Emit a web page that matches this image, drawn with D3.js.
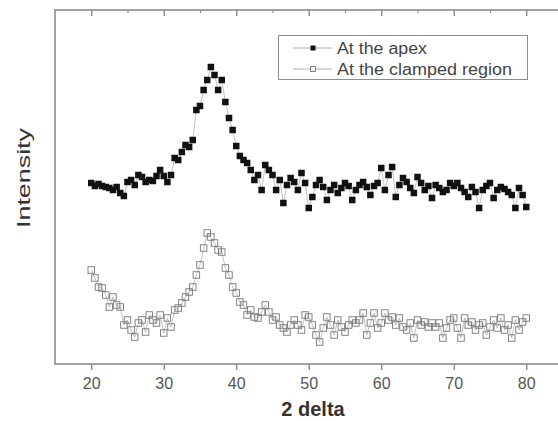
<!DOCTYPE html>
<html>
<head>
<meta charset="utf-8">
<script src="https://cdn.jsdelivr.net/npm/d3@7"></script>
<style>
  body { margin: 0; background: #fff; }
  text { font-family: "Liberation Sans", Arial, sans-serif; }
</style>
</head>
<body>
<div id="chart"></div>
<script>
// 2 theta positions (degrees)
const twoTheta = [
  20, 20.5, 21, 21.5, 22, 22.5, 23, 23.5, 24, 24.5, 25, 25.5, 26, 26.5, 27, 27.5, 28, 28.5, 29, 29.5,
  30, 30.5, 31, 31.5, 32, 32.5, 33, 33.5, 34, 34.5, 35, 35.5, 36, 36.5, 37, 37.5, 38, 38.5, 39, 39.5,
  40, 40.5, 41, 41.5, 42, 42.5, 43, 43.5, 44, 44.5, 45, 45.5, 46, 46.5, 47, 47.5, 48, 48.5, 49, 49.5,
  50, 50.5, 51, 51.5, 52, 52.5, 53, 53.5, 54, 54.5, 55, 55.5, 56, 56.5, 57, 57.5, 58, 58.5, 59, 59.5,
  60, 60.5, 61, 61.5, 62, 62.5, 63, 63.5, 64, 64.5, 65, 65.5, 66, 66.5, 67, 67.5, 68, 68.5, 69, 69.5,
  70, 70.5, 71, 71.5, 72, 72.5, 73, 73.5, 74, 74.5, 75, 75.5, 76, 76.5, 77, 77.5, 78, 78.5, 79, 79.5,
  80
];

// intensity (a.u.) at the apex
const apex = [
  181, 178, 180, 178, 177, 176, 174, 177, 171, 168, 182, 184, 179, 189, 187, 182, 184, 183, 188, 194,
  188, 182, 189, 206, 204, 212, 219, 217, 224, 254, 258, 274, 284, 297, 289, 274, 284, 262, 246, 234,
  218, 208, 204, 201, 194, 184, 189, 174, 199, 194, 189, 174, 184, 161, 179, 186, 182, 174, 191, 181,
  156, 167, 179, 184, 177, 164, 174, 179, 171, 176, 181, 178, 164, 174, 179, 182, 177, 169, 178, 181,
  196, 174, 189, 197, 167, 179, 186, 182, 176, 171, 187, 181, 174, 178, 166, 179, 176, 172, 174, 181,
  178, 181, 176, 172, 167, 177, 172, 156, 174, 178, 181, 166, 174, 177, 175, 172, 169, 156, 176, 169,
  157
];

// intensity (a.u.) at the clamped region
const clamped = [
  94, 86, 77, 76, 69, 57, 67, 59, 57, 39, 44, 34, 27, 41, 44, 32, 49, 44, 41, 49,
  31, 46, 37, 54, 56, 61, 67, 72, 77, 89, 99, 116, 131, 127, 121, 114, 112, 96, 89, 77,
  71, 62, 59, 49, 54, 47, 46, 52, 59, 52, 44, 47, 39, 36, 32, 39, 44, 39, 34, 49,
  47, 39, 29, 22, 36, 47, 39, 29, 44, 37, 32, 39, 44, 41, 44, 51, 29, 41, 51, 36,
  41, 51, 44, 47, 39, 46, 37, 34, 41, 26, 44, 39, 42, 37, 41, 37, 41, 26, 36, 44,
  46, 36, 26, 46, 39, 42, 34, 39, 41, 29, 37, 44, 36, 46, 34, 39, 26, 44, 34, 42,
  46
];

const xTicks = [20, 30, 40, 50, 60, 70, 80];
const xMinorTicks = [25, 35, 45, 55, 65, 75];
const seriesNames = ["At the apex", "At the clamped region"];

const W = 558, H = 421;
const margin = {top: 10, left: 55, bottom: 364};

const svg = d3.select("#chart").append("svg")
    .attr("width", W)
    .attr("height", H);

const x = d3.scaleLinear().domain([15, 85]).range([55, 562.5]);
const y = d3.scaleLinear().domain([0, 354]).range([364, 10]);

const frameColor = "#8c8c8c";

// frame
svg.append("rect")
    .attr("x", x(15))
    .attr("y", y(354))
    .attr("width", x(85) - x(15))
    .attr("height", y(0) - y(354))
    .attr("fill", "none")
    .attr("stroke", frameColor)
    .attr("stroke-width", 1.6);

// bottom axis, ticks outward
const xAxis = svg.append("g")
    .attr("transform", `translate(0, ${y(0)})`)
    .call(d3.axisBottom(x).tickValues(xTicks).tickSize(6).tickPadding(8));
xAxis.select(".domain").remove();
xAxis.selectAll("line").attr("stroke", frameColor).attr("stroke-width", 1.4);
xAxis.selectAll("text")
    .attr("fill", "#555")
    .style("font-size", "16px");

// top axis, ticks inward
const topAxis = svg.append("g")
    .attr("transform", `translate(0, ${y(354)})`)
    .call(d3.axisBottom(x).tickValues(xTicks).tickSize(6).tickFormat(""));
topAxis.select(".domain").remove();
topAxis.selectAll("line").attr("stroke", frameColor).attr("stroke-width", 1.4);

const topMinor = svg.append("g")
    .attr("transform", `translate(0, ${y(354)})`)
    .call(d3.axisBottom(x).tickValues(xMinorTicks).tickSize(3).tickFormat(""));
topMinor.select(".domain").remove();
topMinor.selectAll("line").attr("stroke", frameColor).attr("stroke-width", 1.2);

// axis titles
svg.append("text")
    .attr("x", 313)
    .attr("y", 416)
    .attr("text-anchor", "middle")
    .attr("fill", "#333")
    .style("font-size", "20px")
    .style("font-weight", "bold")
    .text("2 delta");

svg.append("text")
    .attr("transform", "translate(30, 178) rotate(-90)")
    .attr("text-anchor", "middle")
    .attr("fill", "#333")
    .style("font-size", "18px")
    .attr("textLength", 100)
    .attr("lengthAdjust", "spacingAndGlyphs")
    .text("Intensity");

const line = d3.line()
    .x((d, i) => x(twoTheta[i]))
    .y(d => y(d));

const plot = svg.append("g");

// connecting lines
plot.append("path")
    .datum(clamped)
    .attr("fill", "none")
    .attr("stroke", "#999")
    .attr("stroke-width", 0.6)
    .attr("d", line);

plot.append("path")
    .datum(apex)
    .attr("fill", "none")
    .attr("stroke", "#999")
    .attr("stroke-width", 0.6)
    .attr("d", line);

const s = 6.5;

plot.selectAll(".open")
    .data(clamped)
    .join("rect")
    .attr("class", "open")
    .attr("x", (d, i) => x(twoTheta[i]) - s / 2)
    .attr("y", d => y(d) - s / 2)
    .attr("width", s)
    .attr("height", s)
    .attr("fill", "none")
    .attr("stroke", "#777")
    .attr("stroke-width", 0.9);

plot.selectAll(".filled")
    .data(apex)
    .join("rect")
    .attr("class", "filled")
    .attr("x", (d, i) => x(twoTheta[i]) - s / 2)
    .attr("y", d => y(d) - s / 2)
    .attr("width", s)
    .attr("height", s)
    .attr("fill", "#111");

// legend
const legend = svg.append("g");
legend.append("rect")
    .attr("x", 278.5)
    .attr("y", 35.5)
    .attr("width", 249)
    .attr("height", 44)
    .attr("fill", "#fff")
    .attr("stroke", frameColor)
    .attr("stroke-width", 1);

seriesNames.forEach((name, i) => {
    const ly = 48 + i * 21;
    legend.append("line")
        .attr("x1", 293).attr("x2", 332)
        .attr("y1", ly).attr("y2", ly)
        .attr("stroke", "#999")
        .attr("stroke-width", 0.8);
    legend.append("rect")
        .attr("x", 313 - 2.5)
        .attr("y", ly - 2.5)
        .attr("width", 5)
        .attr("height", 5)
        .attr("fill", i === 0 ? "#111" : "#fff")
        .attr("stroke", i === 0 ? "none" : "#777")
        .attr("stroke-width", 0.9);
    legend.append("text")
        .attr("x", 337)
        .attr("y", ly + 5.5)
        .attr("fill", "#444")
        .style("font-size", "16px")
        .attr("textLength", i === 0 ? 90 : 175)
        .attr("lengthAdjust", "spacingAndGlyphs")
        .text(name);
});
</script>
</body>
</html>
